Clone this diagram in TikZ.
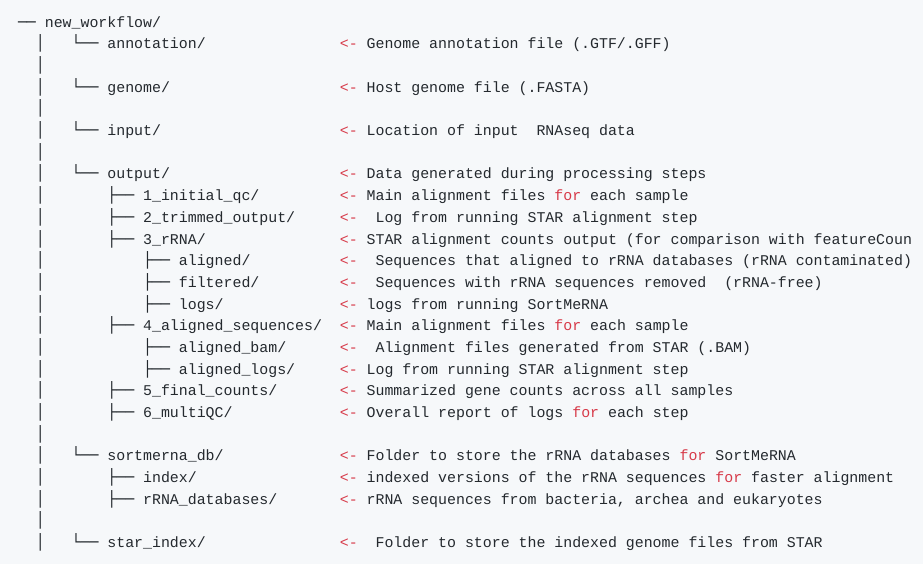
\documentclass[tikz,border=0pt]{standalone}
\usepackage{fontspec}
\newfontfamily\codefont{Liberation Mono}
\newfontfamily\boxfont{DejaVu Sans Mono}
\definecolor{bg}{HTML}{F6F8FA}
\definecolor{fg}{HTML}{24292E}
\definecolor{kw}{HTML}{D73A49}
\newcommand\kwd[1]{\textcolor{kw}{#1}}
\frenchspacing
\begin{document}
\begin{tikzpicture}[x=1pt,y=-1pt,
  cell/.style 2 args={at={({18+(#1)*8.94},{27.3+(#2)*21.67})}},
  codetxt/.style={inner sep=0pt, outer sep=0pt, anchor=base west, text=fg, font=\fontsize{14.9}{18}\selectfont\codefont},
  treetxt/.style={codetxt, font=\fontsize{14.9}{18}\selectfont\boxfont},
  marktxt/.style={codetxt, text=kw}]
\fill[bg] (0,0) rectangle (923,564);
\useasboundingbox (0,0) rectangle (923,564);

% root
\node[treetxt, cell={0}{0}] (root) {──};
\node[codetxt, cell={3}{0}] (rootname) {new\_workflow/};

% vertical bars
\foreach \r in {1,...,24} {
  \node[treetxt, cell={2}{\r}] (bar\r) {│};
}

% branches
\foreach \r/\c/\g in {1/6/└──, 3/6/└──, 5/6/└──, 7/6/└──,
  8/10/├──, 9/10/├──, 10/10/├──, 11/14/├──, 12/14/├──, 13/14/├──,
  14/10/├──, 15/14/├──, 16/14/├──, 17/10/├──, 18/10/├──,
  20/6/└──, 21/10/├──, 22/10/├──, 24/6/└──} {
  \node[treetxt, cell={\c}{\r}] (br\r) {\g};
}

% names
\node[codetxt, cell={10}{1}] (nm1) {annotation/};
\node[codetxt, cell={10}{3}] (nm3) {genome/};
\node[codetxt, cell={10}{5}] (nm5) {input/};
\node[codetxt, cell={10}{7}] (nm7) {output/};
\node[codetxt, cell={14}{8}] (nm8) {1\_initial\_qc/};
\node[codetxt, cell={14}{9}] (nm9) {2\_trimmed\_output/};
\node[codetxt, cell={14}{10}] (nm10) {3\_rRNA/};
\node[codetxt, cell={18}{11}] (nm11) {aligned/};
\node[codetxt, cell={18}{12}] (nm12) {filtered/};
\node[codetxt, cell={18}{13}] (nm13) {logs/};
\node[codetxt, cell={14}{14}] (nm14) {4\_aligned\_sequences/};
\node[codetxt, cell={18}{15}] (nm15) {aligned\_bam/};
\node[codetxt, cell={18}{16}] (nm16) {aligned\_logs/};
\node[codetxt, cell={14}{17}] (nm17) {5\_final\_counts/};
\node[codetxt, cell={14}{18}] (nm18) {6\_multiQC/};
\node[codetxt, cell={10}{20}] (nm20) {sortmerna\_db/};
\node[codetxt, cell={14}{21}] (nm21) {index/};
\node[codetxt, cell={14}{22}] (nm22) {rRNA\_databases/};
\node[codetxt, cell={10}{24}] (nm24) {star\_index/};

% arrows
\foreach \r in {1,3,5,7,8,9,10,11,12,13,14,15,16,17,18,20,21,22,24} {
  \node[marktxt, cell={36}{\r}] (ar\r) {<-};
}

% descriptions
\node[codetxt, cell={39}{1}] (ds1) {Genome annotation file (.GTF/.GFF)};
\node[codetxt, cell={39}{3}] (ds3) {Host genome file (.FASTA)};
\node[codetxt, cell={39}{5}] (ds5) {Location of input~ RNAseq data};
\node[codetxt, cell={39}{7}] (ds7) {Data generated during processing steps};
\node[codetxt, cell={39}{8}] (ds8) {Main alignment files \kwd{for} each sample};
\node[codetxt, cell={40}{9}] (ds9) {Log from running STAR alignment step};
\node[codetxt, cell={39}{10}] (ds10) {STAR alignment counts output (for comparison with featureCoun};
\node[codetxt, cell={40}{11}] (ds11) {Sequences that aligned to rRNA databases (rRNA contaminated)};
\node[codetxt, cell={40}{12}] (ds12) {Sequences with rRNA sequences removed~ (rRNA-free)};
\node[codetxt, cell={39}{13}] (ds13) {logs from running SortMeRNA};
\node[codetxt, cell={39}{14}] (ds14) {Main alignment files \kwd{for} each sample};
\node[codetxt, cell={40}{15}] (ds15) {Alignment files generated from STAR (.BAM)};
\node[codetxt, cell={39}{16}] (ds16) {Log from running STAR alignment step};
\node[codetxt, cell={39}{17}] (ds17) {Summarized gene counts across all samples};
\node[codetxt, cell={39}{18}] (ds18) {Overall report of logs \kwd{for} each step};
\node[codetxt, cell={39}{20}] (ds20) {Folder to store the rRNA databases \kwd{for} SortMeRNA};
\node[codetxt, cell={39}{21}] (ds21) {indexed versions of the rRNA sequences \kwd{for} faster alignment};
\node[codetxt, cell={39}{22}] (ds22) {rRNA sequences from bacteria, archea and eukaryotes};
\node[codetxt, cell={40}{24}] (ds24) {Folder to store the indexed genome files from STAR};
\end{tikzpicture}
\end{document}
